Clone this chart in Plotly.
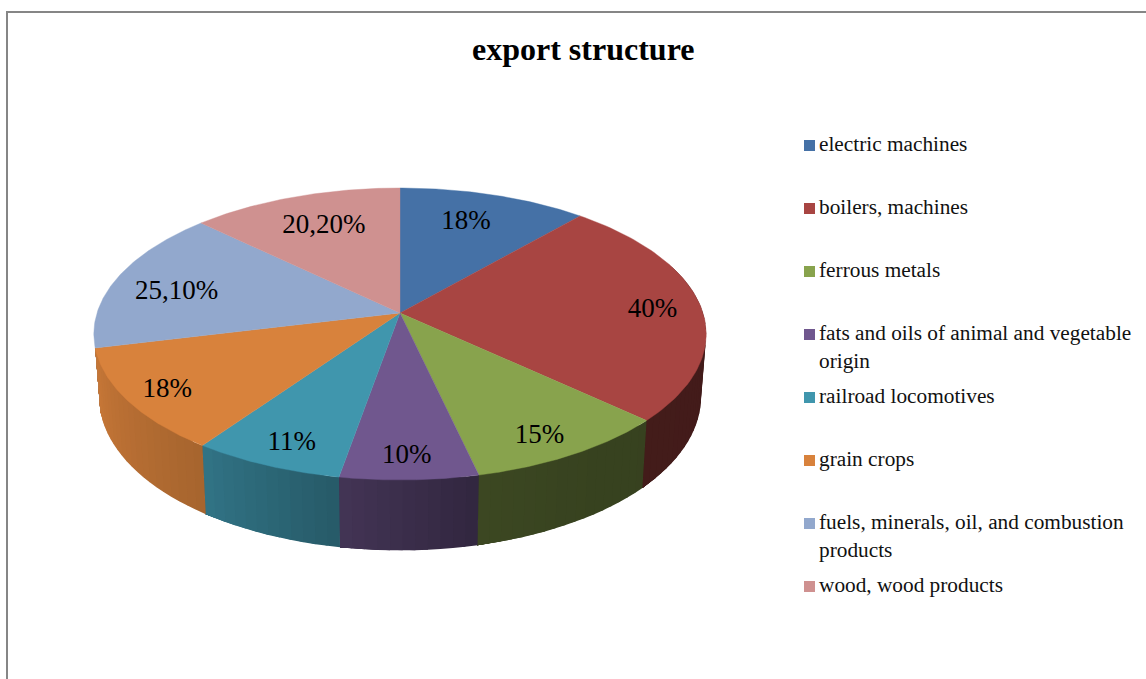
import numpy as np
import plotly.graph_objects as go

# ---- data ----
title = "export structure"
categories = ["electric machines", "boilers, machines", "ferrous metals",
              "fats and oils of animal and vegetable<br>origin", "railroad locomotives",
              "grain crops", "fuels, minerals, oil, and combustion<br>products",
              "wood, wood products"]
values = [18, 40, 15, 10, 11, 18, 25.1, 20.2]
value_labels = ["18%", "40%", "15%", "10%", "11%", "18%", "25,10%", "20,20%"]

# ---- style ----
colors = ["#4571a6", "#a84542", "#88a34d", "#70578e", "#4096ad", "#d8823c", "#92a8cd", "#cf9190"]
label_radius = [0.72, 0.83, 0.85, 0.87, 0.85, 0.88, 0.78, 0.74]
label_dx = [-4, 3, -5, -1, 3, 4.5, -1.5, 4]
label_dy = [-3, 3, 6, 1, 4, 1, 7, 2]
shade_theta = [70, 132, 150, 167, 190, 215, 256, 290]
shade_factor = [0.39, 0.40, 0.41, 0.44, 0.60, 0.77, 0.92, 0.94]
CX, CY, A, B, K = 400.0, 313.0, 303.0, 143.0, 0.1438
WALL_START, WALL_END = 70, 256.6
FONT = "Liberation Serif"
TEXT = "#000000"


def project(theta_deg, r=1.0):
    t = np.radians(theta_deg)
    x, y = r * np.sin(t), r * np.cos(t)
    w = 1 + K * y
    return CX + A * x / w, CY - B * y / w


def project_bottom(theta_deg):
    sx, sy = project(theta_deg)
    return CX + 0.983 * (sx - CX), CY + 1.05 * (sy - CY) + 62


def shade(hex_color, f):
    rgb = [int(hex_color[i:i + 2], 16) for i in (1, 3, 5)]
    return "rgb(%d,%d,%d)" % tuple(round(c * f) for c in rgb)


cum = np.cumsum([0] + values) / sum(values) * 360
fig = go.Figure()

# side walls: narrow strips painted from each slice's far end, each one
# overlapping the next so no seams show
for i, c in enumerate(colors):
    lo, hi = max(cum[i], WALL_START), min(cum[i + 1], WALL_END)
    if hi <= lo:
        continue
    n = max(1, int((hi - lo) / 2.0))
    edges = np.linspace(lo, hi, n + 1)
    for a, b in zip(edges[:-1], edges[1:]):
        tt = np.array([a, b, hi]) if b < hi else np.array([a, b])
        tx, ty = project(tt)
        bx, by = project_bottom(tt[::-1])
        col = shade(c, float(np.interp((a + b) / 2, shade_theta, shade_factor)))
        fig.add_trace(go.Scatter(x=list(tx) + list(bx) + [tx[0]], y=list(ty) + list(by) + [ty[0]],
                                 mode="lines", fill="toself", fillcolor=col,
                                 line=dict(width=0),
                                 hoverinfo="skip", showlegend=False))

# top face wedges
for i, c in enumerate(colors):
    th = np.linspace(cum[i], cum[i + 1], 80)
    ex, ey = project(th)
    fig.add_trace(go.Scatter(x=[CX] + list(ex) + [CX], y=[CY] + list(ey) + [CY],
                             mode="lines", fill="toself", fillcolor=c,
                             line=dict(color=c, width=0.4),
                             name=categories[i].replace("<br>", " "), showlegend=False))

# value labels
mids = (cum[:-1] + cum[1:]) / 2
lx, ly = zip(*[project(m, r) for m, r in zip(mids, label_radius)])
lx = [v + d for v, d in zip(lx, label_dx)]
ly = [v + d for v, d in zip(ly, label_dy)]
fig.add_trace(go.Scatter(x=lx, y=ly, mode="text", text=value_labels,
                         textposition="middle center",
                         textfont=dict(family=FONT, size=27, color=TEXT),
                         hoverinfo="skip", showlegend=False))

# legend
leg_y = [145.5 + 63 * i for i in range(len(categories))]
fig.add_trace(go.Scatter(x=[809.5] * len(categories), y=leg_y, mode="markers",
                         marker=dict(symbol="square", size=11, color=colors, line=dict(width=0)),
                         hoverinfo="skip", showlegend=False))
annotations = [dict(x=818, y=yy - 15, text=cat, xref="x", yref="y", xanchor="left", yanchor="top",
                    align="left", showarrow=False, borderpad=0,
                    font=dict(family=FONT, size=21.3, color="#111111"))
               for cat, yy in zip(categories, leg_y)]
annotations.append(dict(x=583, y=49, text="<b>%s</b>" % title, xref="x", yref="y", showarrow=False,
                        xanchor="center", yanchor="middle",
                        font=dict(family=FONT, size=32, color=TEXT)))

fig.update_layout(
    width=1146, height=679, margin=dict(l=0, r=0, t=0, b=0),
    paper_bgcolor="white", plot_bgcolor="white", showlegend=False,
    xaxis=dict(range=[0, 1146], visible=False, fixedrange=True),
    yaxis=dict(range=[679, 0], visible=False, fixedrange=True),
    annotations=annotations,
    shapes=[dict(type="line", x0=7, x1=7, y0=12, y1=679, xref="x", yref="y",
                 line=dict(color="#868686", width=2)),
            dict(type="line", x0=6, x1=1146, y0=12, y1=12, xref="x", yref="y",
                 line=dict(color="#868686", width=2))],
)
fig.write_html("out.html", config={"displayModeBar": False},
               post_script="document.body.style.margin='0';")
